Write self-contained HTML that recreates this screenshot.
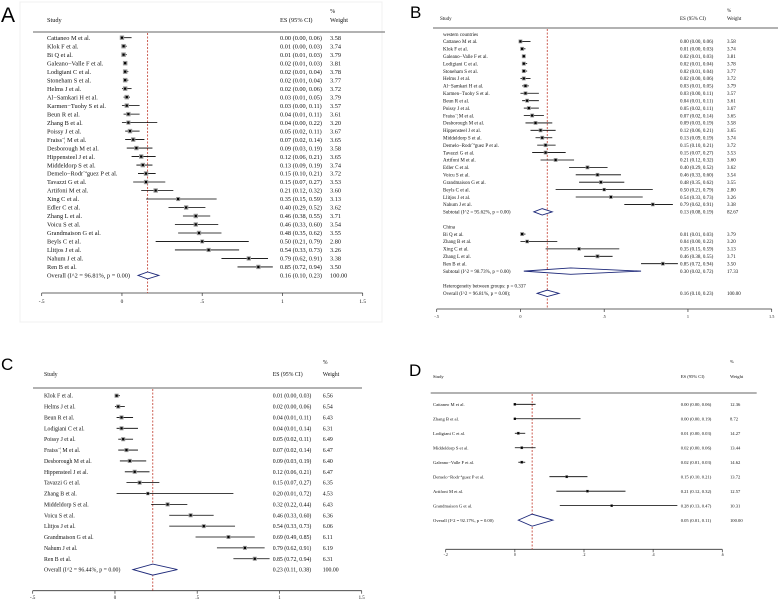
<!DOCTYPE html>
<html><head><meta charset="utf-8"><style>
html,body{margin:0;padding:0;background:#fff;}
svg{display:block;font-family:"Liberation Serif",serif;}
</style></head><body>
<svg id="chart" width="778" height="606" viewBox="0 0 778 606" xmlns="http://www.w3.org/2000/svg">
<rect x="20" y="2" width="362" height="320" fill="none" stroke="#f0f0f0"/>
</svg>
<script>
// ---- Panel A data ----
const aStudies=["Cattaneo M et al.","Klok F et al.","Bi Q et al.","Galeano\u2212Valle F et al.","Lodigiani C et al.","Stoneham S et al.","Helms J et al.","Al\u2212Samkari H et al.","Karmen\u2212Tuohy S et al.","Beun R et al.","Zhang B et al.","Poissy J et al.","Fraiss\u00a8\u00a6 M et al.","Desborough M et al.","Hippensteel J et al.","Middeldorp S et al.","Demelo\u2212Rodr\u00a8\u00aaguez P et al.","Tavazzi G et al.","Artifoni M et al.","Xing C et al.","Edler C et al.","Zhang L et al.","Voicu S  et al.","Grandmaison G et al.","Beyls C et al.","Llitjos J et al.","Nahum J et al.","Ren B et al."];
const aES=[0.00,0.01,0.01,0.02,0.02,0.02,0.02,0.03,0.03,0.04,0.04,0.05,0.07,0.09,0.12,0.13,0.15,0.15,0.21,0.35,0.40,0.46,0.46,0.48,0.50,0.54,0.79,0.85];
const aLo=[0.00,0.00,0.01,0.01,0.01,0.01,0.00,0.01,0.00,0.01,0.00,0.02,0.02,0.03,0.06,0.09,0.10,0.07,0.12,0.15,0.29,0.38,0.33,0.35,0.21,0.33,0.62,0.72];
const aHi=[0.06,0.03,0.03,0.03,0.04,0.04,0.06,0.05,0.11,0.11,0.22,0.11,0.14,0.19,0.21,0.19,0.21,0.27,0.32,0.59,0.52,0.55,0.60,0.62,0.79,0.73,0.91,0.94];
const aW=[3.58,3.74,3.79,3.81,3.78,3.77,3.72,3.79,3.57,3.61,3.20,3.67,3.65,3.58,3.65,3.74,3.72,3.53,3.60,3.13,3.62,3.71,3.54,3.55,2.80,3.26,3.38,3.50];
const aOverall=[0.16,0.10,0.23]; const aI2="96.81%";
// ---- Panel B data ----
const bWestStudies=["Cattaneo M et al.","Klok F et al.","Galeano\u2212Valle F et al.","Lodigiani C et al.","Stoneham S et al.","Helms J et al.","Al\u2212Samkari H et al.","Karmen\u2212Tuohy S et al.","Beun R et al.","Poissy J et al.","Fraiss\u00a8\u00a6 M et al.","Desborough M et al.","Hippensteel J et al.","Middeldorp S et al.","Demelo\u2212Rodr\u00a8\u00aaguez P et al.","Tavazzi G et al.","Artifoni M et al.","Edler C et al.","Voicu S  et al.","Grandmaison G et al.","Beyls C et al.","Llitjos J et al.","Nahum J et al."];
const bWestES=[0.00,0.01,0.02,0.02,0.02,0.02,0.03,0.03,0.04,0.05,0.07,0.09,0.12,0.13,0.15,0.15,0.21,0.40,0.46,0.48,0.50,0.54,0.79];
const bWestLo=[0.00,0.00,0.01,0.01,0.01,0.00,0.01,0.00,0.01,0.02,0.02,0.03,0.06,0.09,0.10,0.07,0.12,0.29,0.33,0.35,0.21,0.33,0.62];
const bWestHi=[0.06,0.03,0.03,0.04,0.04,0.06,0.05,0.11,0.11,0.11,0.14,0.19,0.21,0.19,0.21,0.27,0.32,0.52,0.60,0.62,0.79,0.73,0.91];
const bWestW=[3.58,3.74,3.81,3.78,3.77,3.72,3.79,3.57,3.61,3.67,3.65,3.58,3.65,3.74,3.72,3.53,3.60,3.62,3.54,3.55,2.80,3.26,3.38];
const bWestSub=[0.13,0.08,0.19]; const bWestSubW=82.67; const bWestI2="95.62%";
const bChinaStudies=["Bi Q et al.","Zhang B et al.","Xing C et al.","Zhang L et al.","Ren B et al."];
const bChinaES=[0.01,0.04,0.35,0.46,0.85];
const bChinaLo=[0.01,0.00,0.15,0.38,0.72];
const bChinaHi=[0.03,0.22,0.59,0.55,0.94];
const bChinaW=[3.79,3.20,3.13,3.71,3.50];
const bChinaSub=[0.30,0.02,0.72]; const bChinaSubW=17.33; const bChinaI2="98.73%";
const bOverall=[0.16,0.10,0.23]; const bI2="96.81%"; const bHetP="0.337";
// ---- Panel C data ----
const cStudies=["Klok F et al.","Helms J et al.","Beun R et al.","Lodigiani C et al.","Poissy J et al.","Fraiss\u00a8\u00a6 M et al.","Desborough M et al.","Hippensteel J et al.","Tavazzi G et al.","Zhang B et al.","Middeldorp S et al.","Voicu S  et al.","Llitjos J et al.","Grandmaison G et al.","Nahum J et al.","Ren B et al."];
const cES=[0.01,0.02,0.04,0.04,0.05,0.07,0.09,0.12,0.15,0.20,0.32,0.46,0.54,0.69,0.79,0.85];
const cLo=[0.00,0.00,0.01,0.01,0.02,0.02,0.03,0.06,0.07,0.01,0.22,0.33,0.33,0.49,0.62,0.72];
const cHi=[0.03,0.06,0.11,0.14,0.11,0.14,0.19,0.21,0.27,0.72,0.44,0.60,0.73,0.85,0.91,0.94];
const cW=[6.56,6.54,6.43,6.31,6.49,6.47,6.40,6.47,6.35,4.53,6.43,6.36,6.06,6.11,6.19,6.31];
const cOverall=[0.23,0.11,0.38]; const cI2="96.44%";
// ---- Panel D data ----
const dStudies=["Cattaneo M et al.","Zhang B et al.","Lodigiani C et al.","Middeldorp S et al.","Galeano\u2212Valle F et al.","Demelo\u2212Rodr\u00a8\u00aaguez P et al.","Artifoni M et al.","Grandmaison G et al."];
const dES=[0.00,0.00,0.01,0.02,0.02,0.15,0.21,0.28];
const dLo=[0.00,0.00,0.00,0.00,0.01,0.10,0.12,0.13];
const dHi=[0.06,0.19,0.03,0.06,0.03,0.21,0.32,0.47];
const dW=[12.36,8.72,14.27,13.44,14.62,13.72,12.57,10.31];
const dOverall=[0.05,0.01,0.11]; const dI2="92.17%";
// ---- tick arrays ----
const ticksABC=[-0.5,0,0.5,1,1.5];
const tickLabelsABC=["-.5","0",".5","1","1.5"];
const ticksD=[-0.2,0,0.2,0.4,0.6];
const tickLabelsD=["-.2","0",".2",".4",".6"];

const NS="http://www.w3.org/2000/svg";
const svg=document.getElementById('chart');
function mk(tag,attrs,parent){const e=document.createElementNS(NS,tag);for(const k in attrs)e.setAttribute(k,attrs[k]);(parent||svg).appendChild(e);return e;}
function txt(x,y,s,fs,anchor,parent){const t=mk('text',{x:x,y:y,'font-size':fs,'text-anchor':anchor||'start',fill:'#111'},parent);t.textContent=s;return t;}
function f2(v){return v.toFixed(2);}
function ci(e,l,h){return f2(e)+" ("+f2(l)+", "+f2(h)+")";}

const layouts={
 A:{id:'a',sx:47,hx:47,ex:280,wx:330,y0:37.7,pitch:8.49,fs:6.3,p0:41.7,p1:362.7,axisY:293,labY:303,hrY:32,hrX0:33,hrX1:385,headY:22,pctY:13,k:2.3,dh:3.5,lab:'A',lx:1,ly:22,lfs:21,ticks:ticksABC,tl:tickLabelsABC},
 B:{id:'b',sx:443,hx:440,ex:680,wx:727,y0:34,pitch:7.41,fs:5,p0:436.7,p1:771.7,axisY:309,labY:318,hrY:28,hrX0:433,hrX1:778,headY:20,pctY:12,k:2.0,dh:3.2,lab:'B',lx:410,ly:18,lfs:17,ticks:ticksABC,tl:tickLabelsABC},
 C:{id:'c',sx:44,hx:44,ex:272.7,wx:322.7,y0:395.7,pitch:10.87,fs:5.8,p0:32.7,p1:361.7,axisY:590.7,labY:599,hrY:388,hrX0:33,hrX1:362,headY:376,pctY:364,k:1.6,dh:5.5,lab:'C',lx:1,ly:370,lfs:17,ticks:ticksABC,tl:tickLabelsABC},
 D:{id:'d',sx:433,hx:433,ex:680.7,wx:730,y0:404.3,pitch:14.48,fs:4.6,p0:445.7,p1:722.3,axisY:549.3,labY:556,hrY:393,hrX0:430.7,hrX1:756.7,headY:378,pctY:363,k:0.75,dh:6,lab:'D',lx:409,ly:376,lfs:17,ticks:ticksD,tl:tickLabelsD}
};

function xs(L,v){const t0=L.ticks[0],t1=L.ticks[L.ticks.length-1];return L.p0+(v-t0)/(t1-t0)*(L.p1-L.p0);}
function rowY(L,i){return L.y0+i*L.pitch;}

function frame(L,ref){
 const g=mk('g',{});
 
 
 const lt=mk('text',{x:L.lx,y:L.ly,'font-size':L.lfs,'font-family':'Liberation Sans, sans-serif',fill:'#000'},g);lt.textContent=L.lab;
 
 
 const h1=txt(L.hx,L.headY,'Study',L.fs,'start',g);
 
 
 const h2=txt(L.ex,L.headY,'ES (95% CI)',L.fs,'start',g);
 
 
 const h3=txt(L.wx,L.pctY,'%',L.fs,'start',g);
 
 
 const h4=txt(L.wx,L.headY,'Weight',L.fs,'start',g);
 
 
 const hr=mk('line',{x1:L.hrX0,x2:L.hrX1,y1:L.hrY,y2:L.hrY,stroke:'#333','stroke-width':0.8},g);
 
 
 const ax=mk('line',{x1:L.p0,x2:L.p1,y1:L.axisY,y2:L.axisY,stroke:'#333','stroke-width':0.8},g);
 
 
 L.ticks.forEach((t,i)=>{
  const x=xs(L,t);
  const tk=mk('line',{x1:x,x2:x,y1:L.axisY,y2:L.axisY+3,stroke:'#333','stroke-width':0.7},g);
  
  
  const tl=txt(x,L.labY,L.tl[i],L.fs*0.85,'middle',g);
  
  
 });
 const rx=xs(L,ref);
 const rl=mk('line',{x1:rx,x2:rx,y1:L.hrY+1,y2:L.axisY,stroke:'#c0392b','stroke-width':0.8,'stroke-dasharray':'2,1.5'},g);
 
 
 return g;
}

function studyRow(L,g,i,name,es,lo,hi,w){
 const y=rowY(L,i);
 const t=txt(L.sx,y+L.fs*0.35,name,L.fs,'start',g);
 
 
 const wl=mk('line',{x1:xs(L,lo),x2:xs(L,hi),y1:y,y2:y,stroke:'#000','stroke-width':0.8},g);
 
 
 const s=L.k*Math.sqrt(w),cx=xs(L,es);
 const sq=mk('rect',{x:cx-s/2,y:y-s/2,width:s,height:s,fill:'#9a9a9a'},g);
 
 
 const pt=mk('rect',{x:cx-1.1,y:y-1.1,width:2.2,height:2.2,fill:'#000'},g);
 
 
 const e=txt(L.ex,y+L.fs*0.35,ci(es,lo,hi),L.fs,'start',g);
 
 
 const wt=txt(L.wx,y+L.fs*0.35,f2(w),L.fs,'start',g);
 
 
}

function diamondRow(L,g,i,label,v,w,name){
 const y=rowY(L,i);
 const t=txt(L.sx,y+L.fs*0.35,label,L.fs,'start',g);
 
 
 const pts=[[xs(L,v[1]),y],[xs(L,v[0]),y-L.dh],[xs(L,v[2]),y],[xs(L,v[0]),y+L.dh]].map(p=>p.join(',')).join(' ');
 const d=mk('polygon',{points:pts,fill:'#fff',stroke:'#1f2a7a','stroke-width':0.9},g);
 
 
 const e=txt(L.ex,y+L.fs*0.35,ci(v[0],v[1],v[2]),L.fs,'start',g);
 
 
 if(w!==null){const wt=txt(L.wx,y+L.fs*0.35,f2(w),L.fs,'start',g);
 
 }
}

// Panel A
(function(){const L=layouts.A;const g=frame(L,aOverall[0]);
 aStudies.forEach((s,i)=>studyRow(L,g,i,s,aES[i],aLo[i],aHi[i],aW[i]));
 diamondRow(L,g,aStudies.length,"Overall  (I^2 = "+aI2+", p = 0.00)",aOverall,100,'overall');})();
// Panel B
(function(){const L=layouts.B;const g=frame(L,bOverall[0]);
 const h=txt(L.sx,rowY(L,0)+L.fs*0.35,'western countries',L.fs,'start',g);
 
 
 bWestStudies.forEach((s,i)=>studyRow(L,g,i+1,s,bWestES[i],bWestLo[i],bWestHi[i],bWestW[i]));
 let r=bWestStudies.length+1;
 diamondRow(L,g,r,"Subtotal  (I^2 = "+bWestI2+", p = 0.00)",bWestSub,bWestSubW,'subtotal-western');
 r+=2;
 const h2=txt(L.sx,rowY(L,r)+L.fs*0.35,'China',L.fs,'start',g);
 
 
 bChinaStudies.forEach((s,i)=>studyRow(L,g,r+1+i,s,bChinaES[i],bChinaLo[i],bChinaHi[i],bChinaW[i]));
 r+=bChinaStudies.length+1;
 diamondRow(L,g,r,"Subtotal  (I^2 = "+bChinaI2+", p = 0.00)",bChinaSub,bChinaSubW,'subtotal-china');
 r+=2;
 const ht=txt(L.sx,rowY(L,r)+L.fs*0.35,'Heterogeneity between groups: p = '+bHetP,L.fs,'start',g);
 
 
 diamondRow(L,g,r+1,"Overall  (I^2 = "+bI2+", p = 0.00);",bOverall,100,'overall');})();
// Panel C
(function(){const L=layouts.C;const g=frame(L,cOverall[0]);
 cStudies.forEach((s,i)=>studyRow(L,g,i,s,cES[i],cLo[i],cHi[i],cW[i]));
 diamondRow(L,g,cStudies.length,"Overall  (I^2 = "+cI2+", p = 0.00)",cOverall,100,'overall');})();
// Panel D
(function(){const L=layouts.D;const g=frame(L,dOverall[0]);
 dStudies.forEach((s,i)=>studyRow(L,g,i,s,dES[i],dLo[i],dHi[i],dW[i]));
 diamondRow(L,g,dStudies.length,"Overall  (I^2 = "+dI2+", p = 0.00)",dOverall,100,'overall');})();
</script>
</body></html>
